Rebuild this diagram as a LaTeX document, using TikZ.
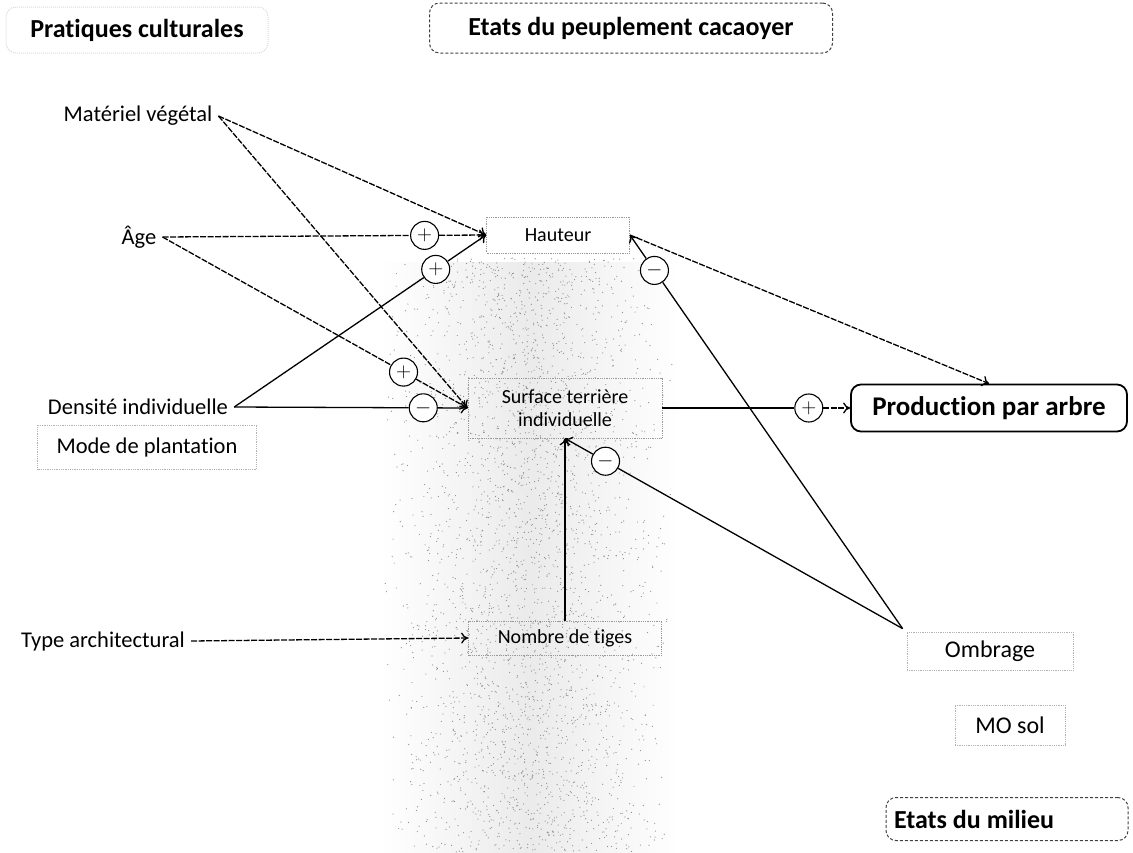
\documentclass[tikz,border=0pt]{standalone}
\usepackage{fontspec}
\setmainfont{Carlito}[Ligatures=NoCommon]
\usetikzlibrary{calc,arrows.meta}

\tikzset{
  etiq/.style={inner sep=6pt, font=\fontsize{22.5}{27}\selectfont},
  boite/.style={draw=black!40, densely dotted, line width=0.8pt, inner sep=3pt, align=center, font=\fontsize{20}{23}\selectfont},
  cadre/.style={draw=black!75, densely dashed, line width=1pt, rounded corners=10pt, font=\bfseries\fontsize{26}{30}\selectfont},
  signe/.style={circle, draw, fill=white, line width=1.1pt, inner sep=0pt, minimum size=28pt, font=\fontsize{22}{22}\selectfont},
  lien/.style={-{To[length=7pt, width=11pt]}, line width=1.3pt, dash pattern=on 6pt off 1.5pt},
  plein/.style={-{To[length=7pt, width=11pt]}, line width=1.3pt},
}

\begin{document}
\begin{tikzpicture}[x=1pt, y=-1pt]
		%%%%% START %%%%%
		\useasboundingbox (0,0) rectangle (1133,852);
		
		% grisé vertical
		\shade[left color=white, right color=black!8] (380,262) rectangle (530,852);
		\shade[left color=black!8, right color=white] (530,262) rectangle (680,852);
		\pgfmathsetseed{7}
		\foreach \i in {1,...,3000}
			\fill[black!45] ({380+150*(rnd+rnd)}, {258+594*rnd}) circle (0.6);
		
		% titres
		\node[cadre, draw=black!15, densely dotted, minimum width=262pt, minimum height=46pt] (pratiques) at (137,30) {Pratiques culturales};
		\node[cadre, minimum width=403pt, minimum height=50pt] (peuplement) at (631,28) {Etats du peuplement cacaoyer};
		\node[cadre, minimum width=242pt, minimum height=43pt, text width=226pt, align=flush left] (milieu) at (1007,819) {Etats du milieu};
		
		% pratiques
		\node[etiq] (materiel) at (138,116) {Matériel végétal};
		\node[etiq] (age) at (139,237) {Âge};
		\node[etiq] (densite) at (138,407) {Densité individuelle};
		\node[boite, draw=black!30, minimum width=219pt, minimum height=44pt, font=\fontsize{22.5}{27}\selectfont] (mode) at (147,447) {Mode de plantation};
		\node[etiq] (archi) at (103,641) {Type architectural};
		
		% peuplement
		\node[boite, minimum width=143pt, minimum height=36pt] (hauteur) at (558,235) {Hauteur};
		\node[boite, minimum width=194pt, minimum height=60pt] (surface) at (565,408) {Surface terrière\\individuelle};
		\node[boite, minimum width=193pt, minimum height=34pt] (tiges) at (565,638) {Nombre de tiges};
		\node[cadre, solid, draw=black, line width=1.8pt, minimum width=276pt, minimum height=47pt, font=\bfseries\fontsize{27}{30}\selectfont] (production) at (989,408) {Production par arbre};
		
		% milieu
		\node[boite, draw=black!30, minimum width=166pt, minimum height=38pt, font=\fontsize{24}{27}\selectfont] (ombrage) at (990,651) {Ombrage};
		\node[boite, draw=black!30, minimum width=110pt, minimum height=40pt, font=\fontsize{24}{27}\selectfont] (mosol) at (1010,725) {MO sol};
		\coordinate (omb) at ($(ombrage.north west)+(-4,-3)$);
		
		% signes
		\node[signe] (sAH) at ($(age.east)!0.81!(hauteur.west)$) {$+$};
		\node[signe] (sDH) at ($(densite.east)!0.80!(hauteur.west)$) {$+$};
		\node[signe] (sAS) at ($(age.east)!0.79!(surface.west)$) {$+$};
		\node[signe] (sDS) at ($(densite.east)!0.81!(surface.west)$) {$-$};
		\node[signe] (sOH) at ($(hauteur.east)!0.09!(omb)$) {$-$};
		\node[signe] (sOS) at ($(surface.south)!0.12!(omb)$) {$-$};
		\node[signe] (sP) at ($(surface.east)!0.78!(production.west)$) {$+$};
		
		% liens
		\draw[lien] (materiel.east) -- (hauteur.west);
		\draw[lien] (materiel.east) -- (surface.west);
		\draw[lien, -] (age.east) -- (sAH);
		\draw[lien] (sAH) -- (hauteur.west);
		\draw[lien, -] (age.east) -- (sAS);
		\draw[lien] (sAS) -- (surface.west);
		\draw[plein, -] (densite.east) -- (sDH);
		\draw[plein] (sDH) -- (hauteur.west);
		\draw[plein, -] (densite.east) -- (sDS);
		\draw[plein] (sDS) -- (surface.west);
		\draw[lien] (archi.east) -- (tiges.west);
		\draw[plein] (tiges.north) -- (surface.south);
		\draw[plein, -] (omb) -- (sOH);
		\draw[plein] (sOH) -- (hauteur.east);
		\draw[plein, -] (omb) -- (sOS);
		\draw[plein] (sOS) -- (surface.south);
		\draw[lien] (hauteur.east) -- (production.north);
		\draw[plein, -] (surface.east) -- (sP);
		\draw[lien] (sP) -- (production.west);
		
		%%%%% END %%%%%
	\end{tikzpicture}
\end{document}
